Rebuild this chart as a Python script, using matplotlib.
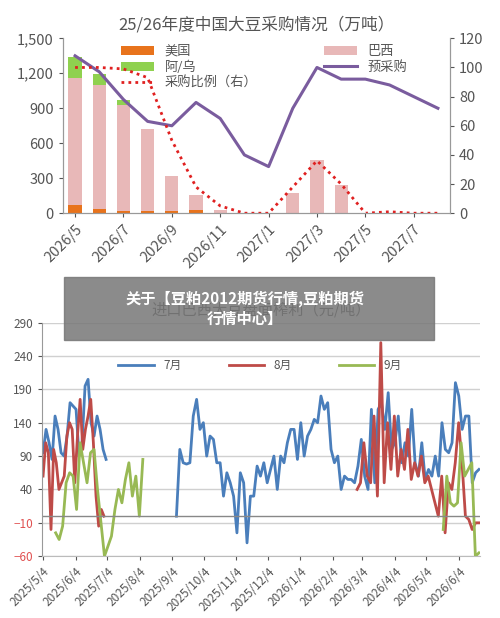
import matplotlib.pyplot as plt
import matplotlib.patches as mpatches
import numpy as np
import pandas as pd

plt.rcParams['font.family'] = ['Noto Sans CJK SC', 'DejaVu Sans']

# ---- top chart data ----
months = ['2026/5', '2026/6', '2026/7', '2026/8', '2026/9', '2026/10', '2026/11', '2026/12',
          '2027/1', '2027/2', '2027/3', '2027/4', '2027/5', '2027/6', '2027/7', '2027/8']
us = [70, 35, 20, 15, 15, 30, 0, 0, 0, 0, 0, 0, 0, 0, 0, 0]
brazil = [1090, 1065, 910, 710, 300, 130, 30, 0, 0, 175, 460, 245, 0, 0, 0, 0]
argur = [180, 90, 40, 0, 0, 0, 0, 0, 0, 0, 0, 0, 0, 0, 0, 0]
prebuy = [108, 97, 78, 63, 60, 76, 65, 40, 32, 72, 100, 92, 92, 88, 80, 72]
ratio = [100, 100, 99, 93, 50, 18, 5, 0, 0, 18, 36, 20, 0, 1, 0, 0]

# ---- bottom chart data (day offsets from 2025-05-04) ----
jul_a = [95, 130, 110, 85, 150, 130, 95, 90, 120, 170, 165, 160, 90, 110, 195, 205, 140, 120, 150, 130, 100, 85]
jul_b = [0, 100, 80, 78, 80, 150, 175, 130, 140, 90, 120, 115, 80, 80, 30, 65, 50, 30, -25, 65, 50, -40,
         30, 30, 75, 60, 80, 50, 70, 90, 40, 90, 80, 110, 130, 130, 85, 140, 90, 120, 130, 145, 140, 180,
         160, 170, 100, 80, 90, 40, 60, 55, 55, 50, 75, 115, 60, 40, 160, 50, 160, 170, 130, 185, 100, 110,
         150, 80, 110, 90, 160, 80, 60, 110, 55, 70, 60, 90, 60, 140, 100, 95, 110, 200, 180, 130, 150,
         150, 50, 65, 70]
aug_a = [60, 110, 95, -20, 100, 80, 40, 50, 60, 120, 140, 130, 50, 120, 175, 100, 130, 150, 175, 110, 30, -15, 10, 0]
aug_b = [40, 50, 110, 60, 50, 150, 30, 260, 50, 140, 70, 150, 60, 100, 70, 130, 55, 80, 60, 90, 50, 60, 40,
         20, 0, 60, -25, 50, 40, 80, 140, 80, 0, -5, -20, -10, -10]
sep_a = [-25, -35, -15, 50, 65, 60, 10, 110, 80, 50, 95, 100, 40, -10, -60, -45, -30, 10, 40, 20, 55, 80, 30, 60, 0, 85]
sep_b = [-20, 60, 20, 15, 20, 110, 60, 70, 80, -60, -55]

fig = plt.figure(figsize=(5, 6.18), dpi=100)

# ---------- top ----------
ax1 = fig.add_axes([0.126, 0.655, 0.774, 0.283])
x = np.arange(len(months))
ax1.bar(x, us, 0.55, color='#e8731c', label='美国')
ax1.bar(x, brazil, 0.55, bottom=us, color='#e8b8b8', label='巴西')
ax1.bar(x, argur, 0.55, bottom=np.array(us) + np.array(brazil), color='#8fd14f', label='阿/乌')
ax1.set_ylim(0, 1500)
ax1.set_yticks(range(0, 1501, 300))
ax1.set_yticklabels(['0', '300', '600', '900', '1,200', '1,500'])
ax1.set_xlim(-0.5, len(months) - 0.5)
ax1.set_xticks(x[::2])
ax1.set_xticklabels(months[::2], rotation=45, ha='right', rotation_mode='anchor')
ax2 = ax1.twinx()
ax2.plot(x, prebuy, color='#7a5c9e', lw=2.2, label='预采购')
ax2.plot(x, ratio, color='#e02020', lw=2, ls=(0, (1, 1.5)), label='采购比例（右）')
ax2.set_ylim(0, 120)
ax2.set_yticks(range(0, 121, 20))
for a in (ax1, ax2):
    for s in a.spines.values():
        s.set_color('#999999')
    a.spines['top'].set_visible(False)
    a.tick_params(colors='#555555', labelsize=10.5, length=3)
ax1.set_title('25/26年度中国大豆采购情况（万吨）', fontsize=12, color='#555555', pad=6)
h1, l1 = ax1.get_legend_handles_labels()
h2, l2 = ax2.get_legend_handles_labels()
hs = [h1[0], h1[2], h2[1], h1[1], h2[0]]
ls = [l1[0], l1[2], l2[1], l1[1], l2[0]]
ax1.legend(hs, ls, ncol=2, frameon=False, fontsize=9.5, loc='upper left', bbox_to_anchor=(0.12, 1.03),
           columnspacing=5, handlelength=2.5, labelspacing=0.2, labelcolor='#555555')

# ---------- bottom ----------
ax3 = fig.add_axes([0.084, 0.1, 0.876, 0.378])
t0 = pd.Timestamp('2025-05-04')
def days(a, b, n):
    return t0 + pd.to_timedelta(np.linspace(a, b, n), unit='D')
ax3.plot(days(0, 60, len(jul_a)), jul_a, color='#4a7ebb', lw=2, label='7月')
ax3.plot(days(0, 58, len(aug_a)), aug_a, color='#be4b48', lw=2, label='8月')
ax3.plot(days(12, 95, len(sep_a)), sep_a, color='#98b954', lw=2, label='9月')
ax3.plot(days(127, 415, len(jul_b)), jul_b, color='#4a7ebb', lw=2)
ax3.plot(days(299, 415, len(aug_b)), aug_b, color='#be4b48', lw=2)
ax3.plot(days(381, 415, len(sep_b)), sep_b, color='#98b954', lw=2)
ax3.set_ylim(-60, 290)
ax3.set_yticks(range(-60, 291, 50))
ax3.set_xlim(t0 - pd.Timedelta(days=1), t0 + pd.Timedelta(days=416))
ticks = pd.date_range('2025-05-04', periods=14, freq=pd.DateOffset(months=1))
ax3.set_xticks(ticks)
ax3.set_xticklabels([f'{d.year}/{d.month}/4' for d in ticks], rotation=45, ha='right', rotation_mode='anchor')
ax3.grid(axis='y', color='#d0d0d0', lw=1)
ax3.axhline(0, color='#888888', lw=1)
for s in ['top', 'right']:
    ax3.spines[s].set_visible(False)
ax3.spines['left'].set_color('#999999')
ax3.spines['bottom'].set_color('#bbbbbb')
ax3.tick_params(colors='#555555', labelsize=8.5, length=3)
for lab in ax3.get_yticklabels():
    if lab.get_text().startswith('-') or lab.get_text().startswith('−'):
        lab.set_color('#e05050')
ax3.set_title('进口巴西大豆盘面榨利（元/吨）', fontsize=11, color='#555555', pad=6)
ax3.legend(ncol=3, frameon=False, fontsize=8.5, loc='upper left', bbox_to_anchor=(0.15, 0.89),
           columnspacing=4, handlelength=3, labelcolor='#555555')

# banner overlay
fig.patches.append(mpatches.Rectangle((0.128, 0.45), 0.74, 0.102, transform=fig.transFigure,
                                      color='#777777', alpha=0.85, zorder=10))
fig.text(0.49, 0.501, '关于【豆粕2012期货行情,豆粕期货\n行情中心】', ha='center', va='center',
         color='white', fontsize=11, fontweight='bold', zorder=11, linespacing=1.3)

fig.savefig('out.png', dpi=100)
